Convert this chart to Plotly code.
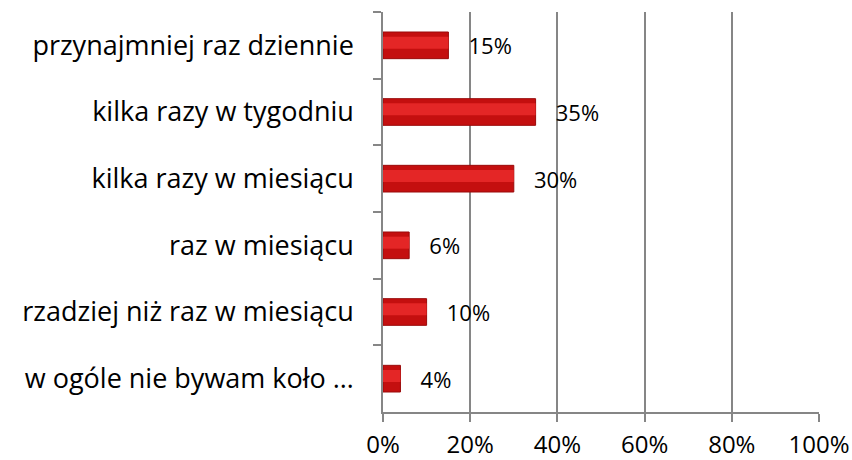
import plotly.graph_objects as go

categories = [
    "przynajmniej raz dziennie",
    "kilka razy w tygodniu",
    "kilka razy w miesiącu",
    "raz w miesiącu",
    "rzadziej niż raz w miesiącu",
    "w ogóle nie bywam koło …",
]
values = [15, 35, 30, 6, 10, 4]
x_ticks = [0, 20, 40, 60, 80, 100]

FONT = "Open Sans"

fig = go.Figure()
fig.add_trace(go.Bar(
    x=values,
    y=categories,
    orientation="h",
    width=0.4,
    marker=dict(color="#C40F0F", line=dict(color="#9A0A0A", width=1)),
    text=values,
    texttemplate="   %{x}%",
    textposition="outside",
    constraintext="none",
    textfont=dict(family=FONT, size=22, color="#000000"),
    cliponaxis=False,
    hoverinfo="skip",
))
fig.add_trace(go.Bar(
    x=values,
    y=categories,
    orientation="h",
    width=0.18,
    offset=-0.13,
    marker=dict(color="#E42626", line=dict(width=0)),
    hoverinfo="skip",
))

fig.update_layout(
    width=852, height=460,
    margin=dict(l=383, r=33, t=12, b=48),
    paper_bgcolor="white", plot_bgcolor="white",
    showlegend=False,
    barmode="overlay",
    font=dict(family=FONT, size=20, color="#000000"),
)
fig.update_xaxes(
    range=[0, 100],
    tickvals=x_ticks,
    ticktext=[f"{v}%" for v in x_ticks],
    showgrid=True, gridcolor="#868686", gridwidth=1.5,
    showline=True, linecolor="#868686", linewidth=1.5,
    ticks="outside", ticklen=8, tickcolor="#868686", tickwidth=1.5,
    tickfont=dict(family=FONT, size=24),
    ticklabelstandoff=2,
    zeroline=False,
    automargin=False,
)
fig.update_yaxes(
    categoryorder="array", categoryarray=categories,
    autorange="reversed",
    showline=True, linecolor="#868686", linewidth=1.5,
    ticks="outside", ticklen=8, tickcolor="#868686", tickwidth=1.5,
    tickson="boundaries",
    ticklabelstandoff=22,
    tickfont=dict(family=FONT, size=27),
    showgrid=False,
    automargin=False,
)

fig.write_html(
    "out.html",
    config={"displayModeBar": False},
    post_script="document.body.style.margin='0';document.body.style.padding='0';",
)
